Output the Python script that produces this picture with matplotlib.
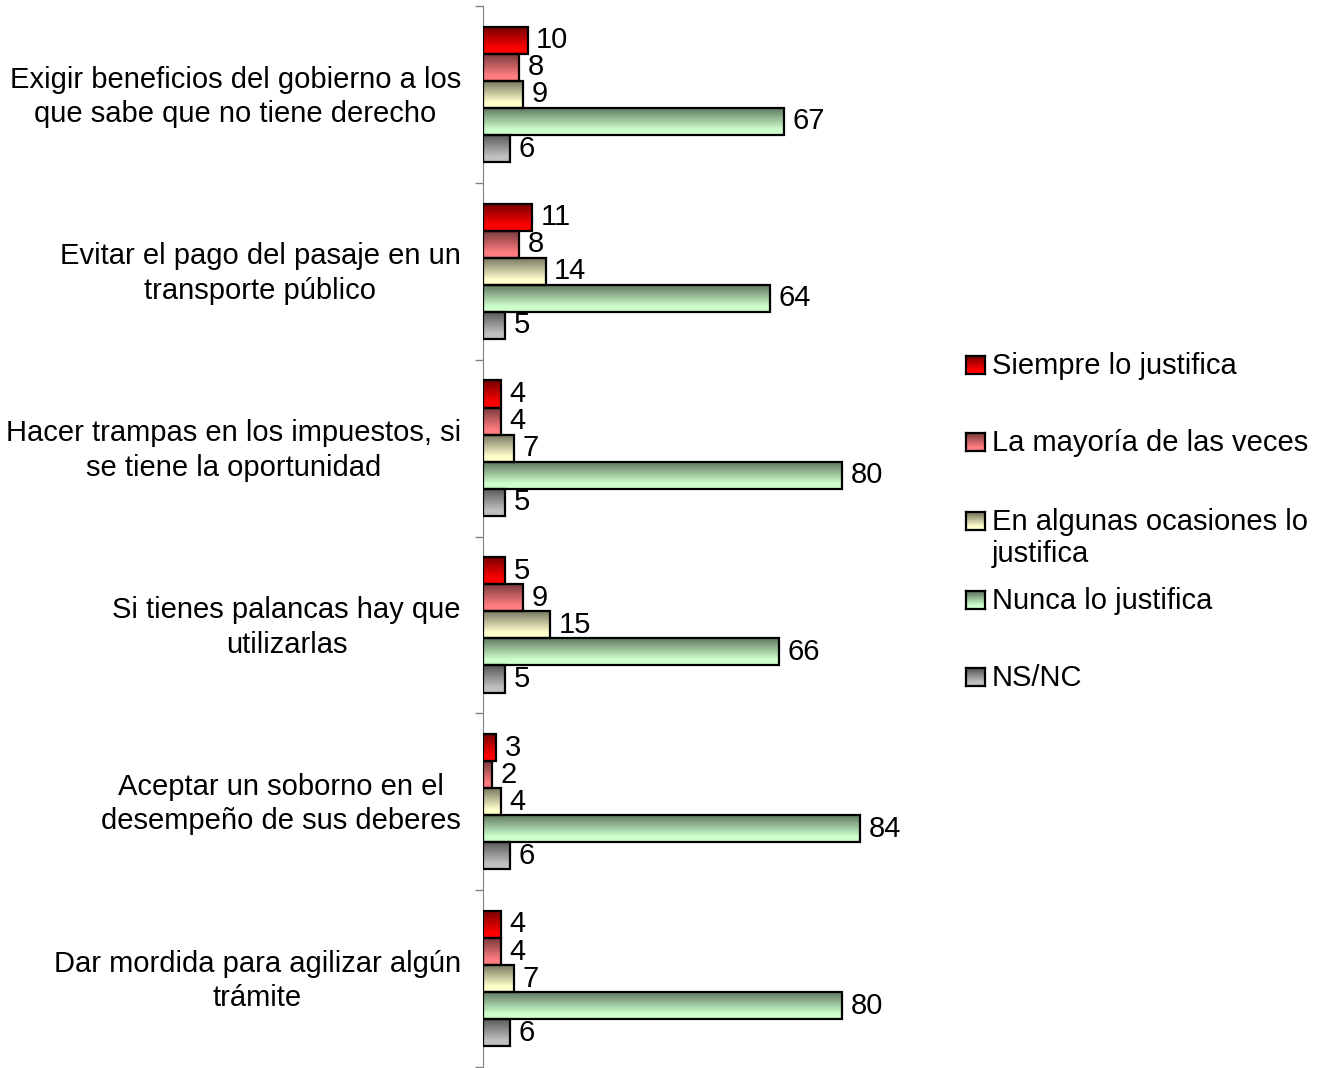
import numpy as np
import matplotlib
matplotlib.use("Agg")
import matplotlib.pyplot as plt
import matplotlib.colors as mcolors

plt.rcParams["font.family"] = ["Liberation Sans", "DejaVu Sans"]

# categories, top to bottom
categories = [
    "Exigir beneficios del gobierno a los\nque sabe que no tiene derecho",
    "Evitar el pago del pasaje en un\ntransporte público",
    "Hacer trampas en los impuestos, si\nse tiene la oportunidad",
    "Si tienes palancas hay que\nutilizarlas",
    "Aceptar un soborno en el\ndesempeño de sus deberes",
    "Dar mordida para agilizar algún\ntrámite",
]
series = [
    "Siempre lo justifica",
    "La mayoría de las veces",
    "En algunas ocasiones lo\njustifica",
    "Nunca lo justifica",
    "NS/NC",
]
siempre = [10, 11, 4, 5, 3, 4]
mayoria = [8, 8, 4, 9, 2, 4]
algunas = [9, 14, 7, 15, 4, 7]
nunca = [67, 64, 80, 66, 84, 80]
nsnc = [6, 5, 5, 5, 6, 6]
values = [siempre, mayoria, algunas, nunca, nsnc]
colors = ["#FF0000", "#FF7C80", "#FFFFCC", "#CCFFCC", "#C0C0C0"]

FS = 21


def gradient(base, n=64):
    # dark at top, light at bottom (Excel style)
    base = np.array(mcolors.to_rgb(base))
    dark = base * 0.45
    t = np.clip(np.linspace(0, 1, n) * 1.25, 0, 1)[:, None]
    return (dark + (base - dark) * t)[:, None, :]


fig = plt.figure(figsize=(13.23, 10.68), dpi=100)
ax = fig.add_axes([483 / 1323, 1 / 1068, 449 / 1323, 1061 / 1068])

n = len(categories)
ypos = np.arange(n)[::-1]
h = 0.153

for j, (vals, col) in enumerate(zip(values, colors)):
    y = ypos + (2 - j) * h
    bars = ax.barh(y, vals, height=h, facecolor="none", edgecolor="black",
                   linewidth=1.6, zorder=3)
    img = gradient(col)
    for b in bars:
        x0, y0 = b.get_x(), b.get_y()
        im = ax.imshow(img, extent=[x0, x0 + b.get_width(), y0, y0 + b.get_height()],
                       origin="upper", aspect="auto", zorder=2, interpolation="bilinear")
        im.set_clip_path(b)
    ax.bar_label(bars, padding=6, fontsize=FS)

ax.set_xlim(0, 100)
ax.set_ylim(-0.5, n - 0.5)

for s in ["top", "right", "bottom"]:
    ax.spines[s].set_visible(False)
ax.spines["left"].set_color("#808080")
ax.set_xticks([])
# label ticks sit a little above the group centre, like the original
ax.set_yticks(ypos + 0.022)
ax.set_yticklabels(categories, fontsize=FS, multialignment="center", linespacing=1.3)
ax.set_yticks(np.arange(n + 1) - 0.5, minor=True)
ax.tick_params(axis="y", which="major", length=0, pad=16)
ax.tick_params(axis="y", which="minor", length=6, color="#808080", width=1)

# legend drawn by hand so the markers keep the gradient
leg_y = [365, 442, 521, 600, 677]
for lab, col, yc in zip(series, colors, leg_y):
    lax = fig.add_axes([966 / 1323, 1 - (yc + 9) / 1068, 19 / 1323, 18 / 1068])
    lax.imshow(gradient(col, 16), aspect="auto", interpolation="bilinear")
    lax.set_xticks([])
    lax.set_yticks([])
    for sp in lax.spines.values():
        sp.set_linewidth(1.6)
    fig.text(992 / 1323, 1 - (yc - 13) / 1068, lab, fontsize=FS, va="top", ha="left",
             linespacing=1.2)

plt.savefig("out.png", dpi=100)
